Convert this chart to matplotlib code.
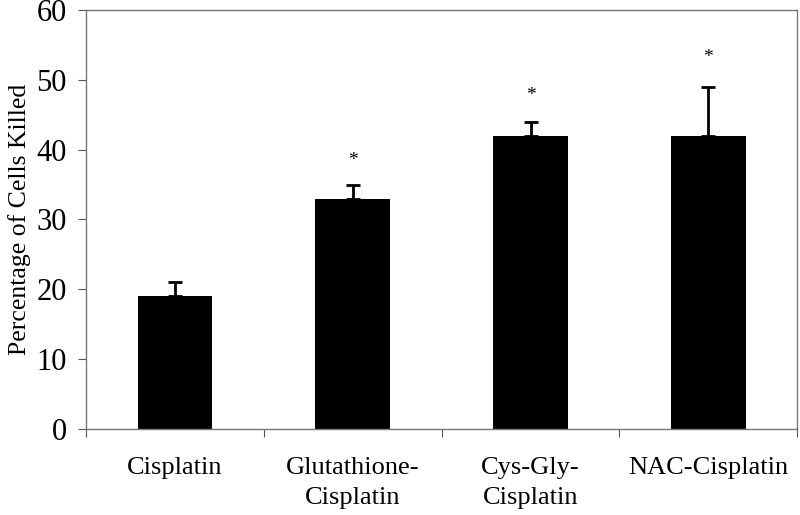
import matplotlib
matplotlib.use("Agg")
import matplotlib.pyplot as plt
import numpy as np

# ── data ──────────────────────────────────────────────────────────────────
categories = ["Cisplatin", "Glutathione-\nCisplatin", "Cys-Gly-\nCisplatin", "NAC-Cisplatin"]
killed     = [19.0, 33.0, 42.0, 42.0]
err_up     = [2.0, 2.0, 2.0, 7.0]
star_y     = [None, 38.5, 47.8, 53.2]

plt.rcParams["font.family"] = ["Liberation Serif", "DejaVu Serif"]

fig = plt.figure(figsize=(8, 5.15), dpi=100)
ax = fig.add_axes([0.1075, 0.167, 0.889, 0.8136])

x = np.arange(len(categories))
ax.bar(x, killed, width=0.42, color="black", zorder=2)
ax.errorbar(x, killed, yerr=[np.zeros(len(x)), err_up], fmt="none",
            ecolor="black", elinewidth=2, capsize=5, capthick=2, zorder=3)
for xi, sy in zip(x, star_y):
    if sy is not None:
        ax.text(xi, sy, "*", ha="center", va="center", fontsize=14)

ax.set_xlim(-0.5, len(categories) - 0.5)
ax.set_ylim(0, 60)
ax.set_yticks(range(0, 61, 10))
ax.tick_params(axis="y", labelsize=22, length=6, color="#555555", pad=8)

# category labels centred, tick marks on category boundaries
ax.set_xticks(np.arange(-0.5, len(categories), 1.0))
ax.set_xticklabels([])
ax.set_xticks(x, minor=True)
ax.set_xticklabels(categories, minor=True, fontsize=19, linespacing=1.5)
ax.tick_params(axis="x", which="major", length=6, color="#555555")
ax.tick_params(axis="x", which="minor", length=0, pad=20)
for lbl in ax.get_xticklabels(minor=True):
    lbl.set_verticalalignment("top")

ax.set_ylabel("Percentage of Cells Killed", fontsize=18.5, labelpad=4)
for s in ax.spines.values():
    s.set_color("#777777")
    s.set_linewidth(1.0)

fig.savefig("out.png", dpi=100)
